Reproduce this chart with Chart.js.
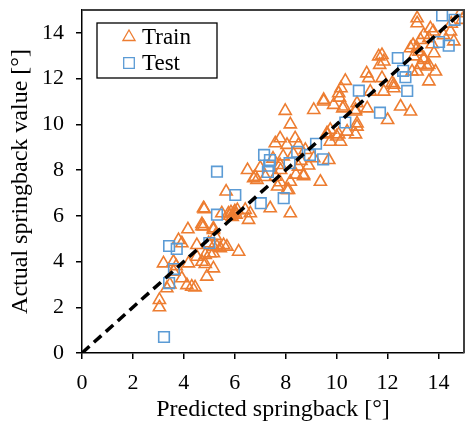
<!DOCTYPE html>
<html><head><meta charset="utf-8">
<script src="https://cdn.jsdelivr.net/npm/chart.js@4/dist/chart.umd.min.js"></script>
<style>html,body{margin:0;padding:0;background:#fff}</style>
</head><body>
<canvas id="c" width="467" height="428"></canvas>
<script>
// ---- data ----
const trainX = [3.04,3.04,3.33,3.20,3.59,3.92,4.12,4.31,4.44,4.18,3.79,3.92,4.16,4.51,4.71,4.84,4.90,4.84,5.16,5.16,4.97,5.16,5.43,5.69,4.71,4.77,5.16,5.23,4.80,4.77,4.71,5.16,5.56,6.15,5.30,5.03,4.51,3.60,3.45,3.70,
 5.49,5.80,5.85,5.90,5.95,6.00,6.05,6.10,5.75,6.41,6.61,6.54,5.66,6.50,6.80,6.87,6.74,7.59,7.68,8.05,8.18,7.39,8.18,8.70,9.36,8.70,7.78,8.11,
 7.98,8.18,9.10,9.49,9.88,10.24,10.11,10.74,9.62,10.08,10.74,10.15,9.75,7.78,7.59,8.05,8.50,8.77,9.10,9.69,7.78,8.50,8.37,9.75,10.00,10.80,10.41,9.62,7.00,7.50,7.90,8.30,8.60,8.90,8.40,7.20,7.80,
 11.65,11.69,11.18,11.26,10.34,10.17,10.08,11.78,12.18,12.24,9.49,10.28,10.80,11.32,11.85,10.74,11.20,12.51,12.90,10.80,12.00,11.78,11.85,12.24,
 12.90,13.23,13.42,13.16,13.62,13.16,13.16,13.68,13.79,13.42,13.62,13.29,14.86,14.93,13.75,13.16,13.82,13.03,13.42,13.29,13.55,12.96,13.62,13.88,13.00,14.47,14.60,14.50,14.20];
const trainY = [2.00,2.32,2.83,3.92,3.99,3.27,2.97,2.90,2.87,3.92,4.94,4.80,5.41,4.21,3.99,3.89,3.34,4.29,4.36,3.70,4.80,4.65,4.58,4.65,5.64,5.53,5.38,5.12,6.29,6.33,5.55,5.45,4.72,4.43,4.65,4.36,4.72,3.55,3.00,3.80,
 6.11,6.00,6.15,5.95,6.10,6.20,6.05,6.25,6.10,6.26,6.11,5.82,7.06,8.00,7.71,7.57,7.64,7.71,7.28,7.13,7.49,6.33,6.11,7.73,7.49,7.79,7.47,7.13,
 10.59,10.00,10.63,11.07,10.85,10.70,11.17,10.63,9.56,9.56,9.56,9.24,9.24,9.39,9.17,9.10,9.10,8.88,8.52,8.44,8.22,8.15,9.39,9.76,9.47,9.90,9.68,9.61,8.10,8.50,8.60,8.70,8.40,8.20,7.80,7.70,8.00,
 12.97,12.60,12.23,12.02,11.90,11.58,11.36,12.02,11.80,11.58,11.00,10.78,10.92,11.43,11.43,10.56,10.70,10.78,10.56,10.04,10.19,13.03,12.75,11.73,
 13.33,13.18,12.82,12.31,12.60,14.64,14.42,14.20,14.06,13.91,13.77,13.69,14.86,14.57,13.50,13.33,13.11,12.97,12.89,12.60,12.53,12.31,11.88,12.31,13.47,14.06,13.63,14.40,13.90];
const testX = [3.22,3.42,3.61,3.42,3.72,5.00,5.30,5.30,6.02,7.02,7.92,7.15,7.38,7.35,7.30,8.15,8.45,8.95,9.19,9.47,10.34,11.70,10.87,12.40,12.61,12.70,12.77,14.02,14.40,14.14,14.63];
const testY = [0.70,3.06,3.67,4.68,4.55,4.81,6.05,7.93,6.91,6.55,6.77,8.66,8.44,8.19,7.92,8.30,8.80,8.66,9.15,8.47,10.08,10.51,11.47,12.90,12.34,12.06,11.46,13.60,13.44,14.76,14.57];
const refX = [0, 15];
const refY = [0, 15];
const tickValues = [0, 2, 4, 6, 8, 10, 12, 14];
const seriesNames = ['Train', 'Test'];
const xTitle = 'Predicted springback [°]';
const yTitle = 'Actual springback value [°]';

const toPts = (xs, ys) => xs.map((x, i) => ({x, y: ys[i]}));
const FONT = '"Liberation Serif", "Times New Roman", serif';

const framePlugin = {
  id: 'frame',
  afterDatasetsDraw(chart) {
    const {ctx, chartArea: a} = chart;
    ctx.save();
    ctx.strokeStyle = '#404040';
    ctx.lineWidth = 2;
    ctx.beginPath();
    ctx.moveTo(a.left, a.top); ctx.lineTo(a.right, a.top); ctx.lineTo(a.right, a.bottom);
    ctx.stroke();
    // legend box
    const x0 = a.left + 15, y0 = a.top + 13, w = 120, h = 55;
    ctx.fillStyle = '#fff';
    ctx.fillRect(x0, y0, w, h);
    ctx.strokeStyle = '#000';
    ctx.lineWidth = 1.3;
    ctx.strokeRect(x0, y0, w, h);
    const items = chart.data.datasets.filter(d => d.legendIndex !== undefined)
      .sort((p, q) => p.legendIndex - q.legendIndex);
    items.forEach((d, i) => {
      const cy = y0 + 14 + i * 26;
      ctx.strokeStyle = d.borderColor;
      ctx.fillStyle = 'rgba(0,0,0,0)';
      Chart.helpers.drawPoint(ctx, {pointStyle: d.pointStyle, radius: d.pointRadius, borderWidth: d.borderWidth, rotation: 0}, x0 + 32, cy);
      ctx.fillStyle = '#000';
      ctx.font = '23px ' + FONT;
      ctx.textBaseline = 'middle';
      ctx.textAlign = 'left';
      ctx.fillText(d.label, x0 + 45, cy + 1);
    });
    ctx.restore();
  }
};

const axisCommon = (title, isY) => ({
  type: 'linear', min: 0, max: 15,
  afterBuildTicks: s => { s.ticks = tickValues.map(v => ({value: v})); },
  afterFit: s => {
    if (isY) { s.width = 82; s.paddingTop = 0; s.paddingBottom = 0; }
    else { s.height = 75; s.paddingLeft = 0; s.paddingRight = 0; }
  },
  border: {display: true, color: '#000', width: 1.5},
  grid: {display: true, drawOnChartArea: false, drawTicks: true, tickLength: 6, color: '#000', lineWidth: 1.5},
  ticks: {color: '#000', font: {family: FONT, size: 22}, padding: isY ? 12 : 11, maxRotation: 0},
  title: {display: true, text: title, color: '#000', font: {family: FONT, size: 24}, padding: isY ? {top: 6, bottom: 0} : {top: 0, bottom: 4}}
});

new Chart(document.getElementById('c'), {
  type: 'scatter',
  data: {
    datasets: [
      {type: 'line', label: 'ref', data: toPts(refX, refY), borderColor: '#000', borderWidth: 3.5, borderDash: [10, 6], pointRadius: 0, fill: false, order: 0},
      {label: seriesNames[1], data: toPts(testX, testY), pointStyle: 'rect', pointRadius: 7.5, borderWidth: 1.6, borderColor: '#5B9BD5', backgroundColor: 'rgba(0,0,0,0)', order: 1, legendIndex: 1},
      {label: seriesNames[0], data: toPts(trainX, trainY), pointStyle: 'triangle', pointRadius: 7, borderWidth: 1.6, borderColor: '#ED7D31', backgroundColor: 'rgba(0,0,0,0)', order: 2, legendIndex: 0}
    ]
  },
  options: {
    responsive: false, animation: false,
    layout: {autoPadding: false, padding: {top: 10, right: 3, left: 0, bottom: 0}},
    plugins: {legend: {display: false}, tooltip: {enabled: false}},
    scales: {x: axisCommon(xTitle, false), y: axisCommon(yTitle, true)}
  },
  plugins: [framePlugin]
});
</script>
</body></html>
